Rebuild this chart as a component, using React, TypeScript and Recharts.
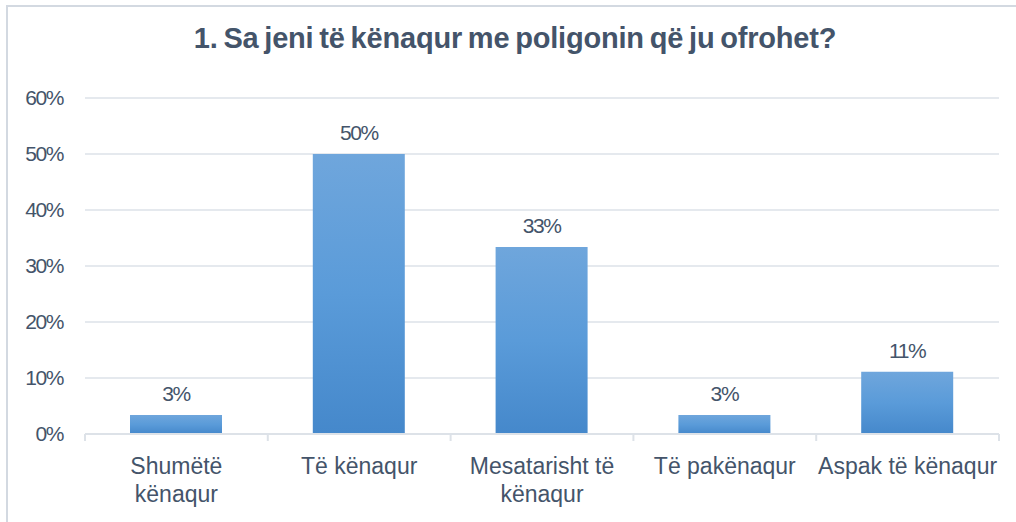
import { Bar, BarChart, CartesianGrid, LabelList, XAxis, YAxis } from 'recharts'

const categories = ['Shumë të kënaqur', 'Të kënaqur', 'Mesatarisht të kënaqur', 'Të pakënaqur', 'Aspak të kënaqur']
const tickLines = [['Shumëtë', 'kënaqur'], ['Të kënaqur'], ['Mesatarisht të', 'kënaqur'], ['Të pakënaqur'], ['Aspak të kënaqur']]
const shares = [3.4, 50, 33.4, 3.4, 11.1]
const yTicks = [0, 10, 20, 30, 40, 50, 60]

const TEXT = '#44546a'
const GRID = '#dde2e8'
const FONT = '"Liberation Sans", Arial, sans-serif'

const W = 1016
const H = 522
const PLOT_LEFT = 85
const PLOT_RIGHT = 17
const BAND = (W - PLOT_LEFT - PLOT_RIGHT) / categories.length

const data = categories.map((name, i) => ({ name, value: shares[i] }))

function CategoryTick(props: any) {
  const { x, y, index } = props
  const lines = tickLines[index] || []
  const last = index === categories.length - 1
  return (
    <g>
      <line x1={x - BAND / 2} x2={x - BAND / 2} y1={y - 8} y2={y - 1} stroke={GRID} strokeWidth={2} />
      {last && (
        <line x1={x + BAND / 2} x2={x + BAND / 2} y1={y - 8} y2={y - 1} stroke={GRID} strokeWidth={2} />
      )}
      {lines.map((ln, i) => (
        <text
          key={i}
          x={x}
          y={y + 32 + i * 28}
          textAnchor="middle"
          fill={TEXT}
          fontSize={23}
          fontFamily={FONT}
        >
          {ln}
        </text>
      ))}
    </g>
  )
}

export default function App() {
  return (
    <div
      style={{
        position: 'fixed',
        left: 0,
        top: 0,
        width: W,
        height: H,
        background: '#fff',
        fontFamily: FONT,
        overflow: 'hidden',
      }}
    >
      <div
        style={{
          position: 'absolute',
          left: 0,
          width: 1030,
          top: 22,
          textAlign: 'center',
          fontSize: 29,
          fontWeight: 'bold',
          letterSpacing: -0.2,
          wordSpacing: -2,
          color: TEXT,
        }}
      >
        1. Sa jeni të kënaqur me poligonin që ju ofrohet?
      </div>
      <BarChart
        width={W}
        height={H}
        data={data}
        margin={{ top: 98, right: PLOT_RIGHT, bottom: 0, left: 0 }}
        style={{ position: 'absolute', left: 0, top: 0 }}
      >
        <defs>
          <linearGradient id="barFill" x1="0" y1="0" x2="0" y2="1">
            <stop offset="0%" stopColor="#6fa6dc" />
            <stop offset="50%" stopColor="#5a9bd9" />
            <stop offset="100%" stopColor="#4588cb" />
          </linearGradient>
        </defs>
        <CartesianGrid vertical={false} stroke={GRID} strokeWidth={1.5} />
        <XAxis
          dataKey="name"
          height={88}
          interval={0}
          tickLine={false}
          axisLine={{ stroke: GRID, strokeWidth: 2 }}
          tick={<CategoryTick />}
        />
        <YAxis
          width={PLOT_LEFT}
          domain={[0, 60]}
          ticks={yTicks}
          interval={0}
          tickLine={false}
          axisLine={false}
          tickSize={0}
          tickMargin={22}
          tickFormatter={(v: number) => `${v}%`}
          tick={{ fill: TEXT, fontSize: 21, fontFamily: FONT, letterSpacing: -1.4 }}
        />
        <Bar dataKey="value" fill="url(#barFill)" barSize={92} isAnimationActive={false}>
          <LabelList
            dataKey="value"
            position="top"
            offset={14}
            formatter={(v: any) => `${Math.round(Number(v))}%`}
            fill={TEXT}
            fontSize={21}
            fontFamily={FONT}
            letterSpacing={-1.4}
          />
        </Bar>
      </BarChart>
      <div
        style={{
          position: 'absolute',
          left: 6,
          top: 5,
          width: W,
          height: H,
          boxSizing: 'border-box',
          borderTop: '2px solid #d3d9e1',
          borderLeft: '2px solid #d3d9e1',
          pointerEvents: 'none',
        }}
      />
    </div>
  )
}
